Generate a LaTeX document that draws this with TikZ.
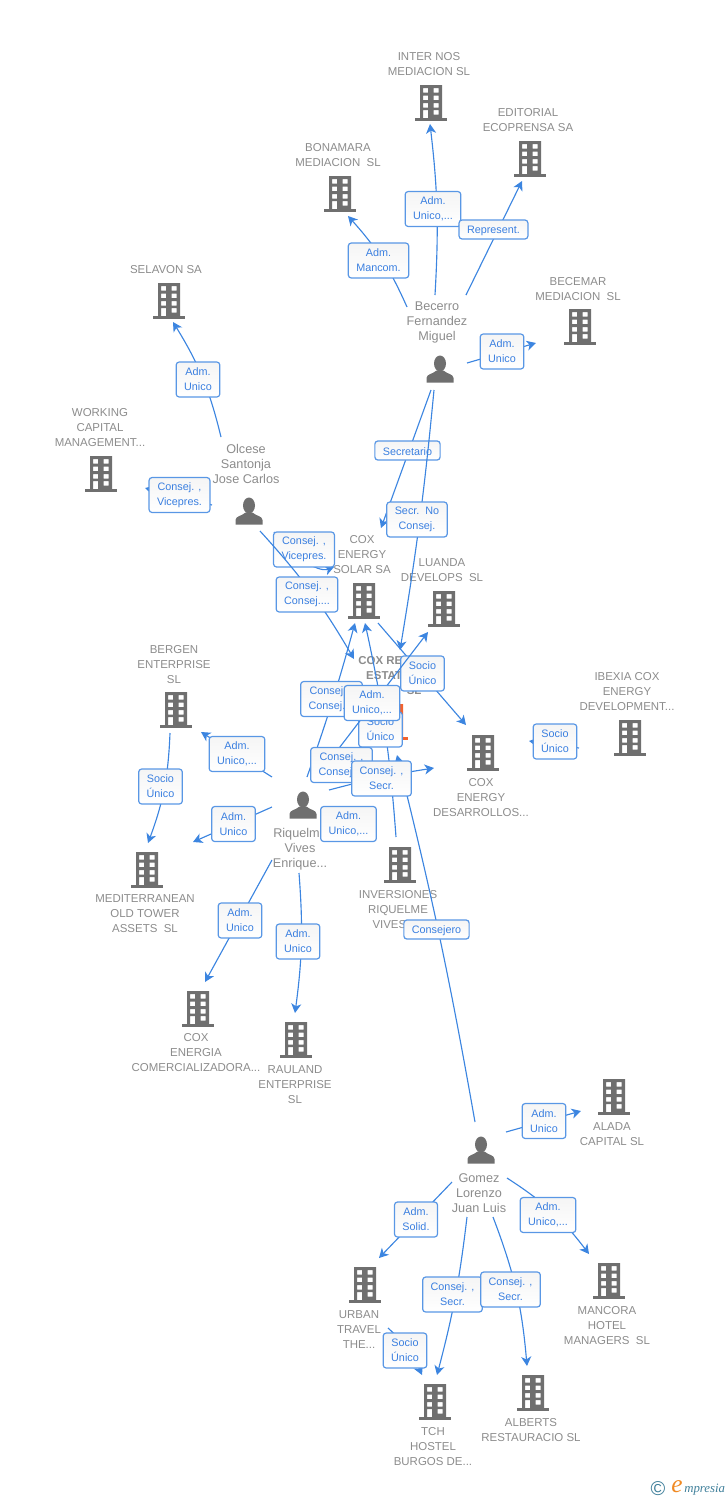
\documentclass[tikz,border=0pt]{standalone}
\usepackage{fontspec}
\setmainfont{Liberation Sans}
\newfontfamily\logofont{Liberation Serif}
\usetikzlibrary{arrows.meta}
\definecolor{linkblue}{HTML}{3C85E0}
\definecolor{lblblue}{HTML}{3A7FE0}
\definecolor{icongray}{HTML}{6F6F6F}
\definecolor{txtgray}{HTML}{8C8C8C}
\definecolor{mainorange}{HTML}{F2622E}
\definecolor{logoblue}{HTML}{3F7F9A}
\definecolor{logoorange}{HTML}{F08A24}
\tikzset{
  building/.pic={
    \fill[even odd rule] (-11,-17) rectangle (11,16)
      (-8,-14) rectangle (-3,-9.5) (2.5,-14) rectangle (7.5,-9.5)
      (-8,-6.5) rectangle (-3,-2) (2.5,-6.5) rectangle (7.5,-2)
      (-8,1) rectangle (-3,5.5) (2.5,1) rectangle (7.5,5.5)
      (-8,8) rectangle (-3,16) (2.5,8) rectangle (7.5,12.5);
    \fill (-16,16) rectangle (16,18.5);
  },
  person/.pic={
    \fill (0,-5.5) ellipse [x radius=6,y radius=8];
    \fill (-13.5,13.5) -- (-13.5,9) .. controls (-13.5,5) and (-7,5) .. (-3.5,1.5)
      -- (3.5,1.5) .. controls (7,5) and (13.5,5) .. (13.5,9) -- (13.5,13.5) -- cycle;
  }
}
\begin{document}
\begin{tikzpicture}[x=0.75pt,y=-0.75pt,
  icon/.style={inner sep=0,outer sep=0,minimum width=24pt,minimum height=27pt},
  btxt/.style={align=center,text=txtgray,inner sep=0,yshift=-0.75pt,font=\fontsize{8.6}{11.25}\selectfont},
  ptxt/.style={align=center,text=txtgray,inner sep=0,yshift=-0.75pt,font=\fontsize{9.5}{11.25}\selectfont},
  maintxt/.style={btxt,font=\fontsize{8.6}{11.25}\selectfont\bfseries},
  link/.style={draw=linkblue,line width=0.85pt,-{Stealth[length=7pt,width=7.5pt,inset=2pt]}},
  lbl/.style={draw=linkblue!85,line width=0.9pt,rounded corners=2.2pt,top color=black!4,bottom color=white,
    text=lblblue,align=center,inner xsep=6pt,inner ysep=0,minimum height=26.2pt,
    execute at begin node={\rule{0pt}{7.3pt}},
    font=\fontsize{8.1}{11.25}\selectfont},
  lblone/.style={lbl,minimum height=14.25pt}]
\useasboundingbox (0,0) rectangle (728,1500);
\node[icon] (internos) at (431,102) {};
\node[icon] (editorial) at (530,158) {};
\node[icon] (bonamara) at (340,193) {};
\node[icon] (becemar) at (580,326) {};
\node[icon] (selavon) at (169,300) {};
\node[icon] (working) at (101,473) {};
\node[icon] (coxsolar) at (364,600) {};
\node[icon] (luanda) at (444,608) {};
\node[icon] (coxreal) at (392,721) {};
\node[icon] (bergen) at (176,709) {};
\node[icon] (ibexia) at (630,737) {};
\node[icon] (coxdes) at (483,752) {};
\node[icon] (medit) at (147,869) {};
\node[icon] (inversiones) at (400,864) {};
\node[icon] (coxenergia) at (198,1008) {};
\node[icon] (rauland) at (296,1039) {};
\node[icon] (alada) at (614,1096) {};
\node[icon] (mancora) at (609,1280) {};
\node[icon] (urban) at (365,1284) {};
\node[icon] (tch) at (435,1401) {};
\node[icon] (alberts) at (533,1392) {};
\node[icon] (becerro) at (440,369) {};
\node[icon] (olcese) at (249,511) {};
\node[icon] (riquelme) at (303,805) {};
\node[icon] (gomez) at (481,1150) {};
\foreach \bname in {internos,editorial,bonamara,becemar,selavon,working,coxsolar,luanda,bergen,ibexia,coxdes,medit,inversiones,coxenergia,rauland,alada,mancora,urban,tch,alberts}
  \pic[icongray] at (\bname.center) {building};
\pic[mainorange] at (coxreal.center) {building};
\foreach \pname in {becerro,olcese,riquelme,gomez}
  \pic[icongray] at (\pname.center) {person};
\node[btxt] (internostxt) at (429,63.5) {INTER NOS\\MEDIACION SL};
\node[btxt] (editorialtxt) at (528,119.5) {EDITORIAL\\ECOPRENSA SA};
\node[btxt] (bonamaratxt) at (338,154.5) {BONAMARA\\MEDIACION\ \ SL};
\node[btxt] (becemartxt) at (578,288.5) {BECEMAR\\MEDIACION\ \ SL};
\node[btxt] (selavontxt) at (166,269) {SELAVON SA};
\node[btxt] (workingtxt) at (100,427) {WORKING\\CAPITAL\\MANAGEMENT...};
\node[btxt] (coxsolartxt) at (362,554) {COX\\ENERGY\\SOLAR SA};
\node[btxt] (luandatxt) at (442,569.5) {LUANDA\\DEVELOPS\ \ SL};
\node[maintxt] (coxrealtxt) at (388,675) {COX REAL\\ESTATE\\ASSETS\ \ SL};
\node[btxt] (bergentxt) at (174,664) {BERGEN\\ENTERPRISE\\SL};
\node[btxt] (ibexiatxt) at (627,691) {IBEXIA COX\\ENERGY\\DEVELOPMENT...};
\node[btxt] (coxdestxt) at (481,797) {COX\\ENERGY\\DESARROLLOS...};
\node[btxt] (medittxt) at (145,913) {MEDITERRANEAN\\OLD TOWER\\ASSETS\ \ SL};
\node[btxt] (inversionestxt) at (398,909) {INVERSIONES\\RIQUELME\\VIVES SL};
\node[btxt] (coxenergiatxt) at (196,1052) {COX\\ENERGIA\\COMERCIALIZADORA...};
\node[btxt] (raulandtxt) at (295,1084) {RAULAND\\ENTERPRISE\\SL};
\node[btxt] (aladatxt) at (612,1133.5) {ALADA\\CAPITAL SL};
\node[btxt] (mancoratxt) at (607,1325) {MANCORA\\HOTEL\\MANAGERS\ \ SL};
\node[btxt] (urbantxt) at (359,1329) {URBAN\\TRAVEL\\THE...};
\node[btxt] (tchtxt) at (433,1446) {TCH\\HOSTEL\\BURGOS DE...};
\node[btxt] (albertstxt) at (531,1429.5) {ALBERTS\\RESTAURACIO SL};
\node[ptxt] (becerrotxt) at (437,321) {Becerro\\Fernandez\\Miguel};
\node[ptxt] (olcesetxt) at (246,463) {Olcese\\Santonja\\Jose Carlos};
\node[ptxt] (riquelmetxt) at (300,848) {Riquelme\\Vives\\Enrique...};
\node[ptxt] (gomeztxt) at (479,1192) {Gomez\\Lorenzo\\Juan Luis};
\draw[link] ([shift={(-5,-74)}]becerro.center) to[bend right=5] ([shift={(-1,22)}]internos.center);
\node[lbl] (lblinternos) at (433,209) {Adm.\\Unico,...};
\draw[link] ([shift={(26,-74)}]becerro.center) -- ([shift={(-8,23)}]editorial.center);
\node[lblone] (lbleditorial) at (493.5,229.5) {Represent.};
\draw[link] ([shift={(-33,-62)}]becerro.center) to[bend right=9] ([shift={(8,23)}]bonamara.center);
\node[lbl] (lblbonamara) at (378.5,260.5) {Adm.\\Mancom.};
\draw[link] ([shift={(27,-6)}]becerro.center) -- ([shift={(-44,17)}]becemar.center);
\node[lbl] (lblbecemar) at (502,351.5) {Adm.\\Unico};
\draw[link] ([shift={(-9,21)}]becerro.center) -- ([shift={(17,-72)}]coxsolar.center);
\node[lblone] (lblsecretario) at (407.5,450.5) {Secretario};
\draw[link] ([shift={(-6,21)}]becerro.center) to[bend left=2] ([shift={(8,-71)}]coxreal.center);
\node[lbl] (lblsecr) at (417,519.5) {Secr.\ \ No\\Consej.};
\draw[link] ([shift={(-28,-74)}]olcese.center) to[bend right=9] ([shift={(4,22)}]selavon.center);
\node[lbl] (lblselavon) at (198,379.5) {Adm.\\Unico};
\draw[link] ([shift={(-37,-6)}]olcese.center) -- ([shift={(44,15)}]working.center);
\node[lbl] (lblworking) at (179.5,495) {Consej. ,\\Vicepres.};
\draw[link] ([shift={(25,21)}]olcese.center) .. controls (290,555) and (318,573) .. ([shift={(-30,-33)}]coxsolar.center);
\node[lbl] (lblvicepres) at (304,549.5) {Consej. ,\\Vicepres.};
\draw[link] ([shift={(11,20)}]olcese.center) to[bend left=6] ([shift={(-38,-62)}]coxreal.center);
\node[lbl] (lblolcese) at (307,594.5) {Consej. ,\\Consej....};
\draw[link] ([shift={(14,23)}]coxsolar.center) -- ([shift={(-17,-27)}]coxdes.center);
\node[lbl] (lblsociodes) at (422.5,673.5) {Socio\\Único};
\draw[link] ([shift={(4,-28)}]riquelme.center) to[bend right=2] ([shift={(-9,23)}]coxsolar.center);
\node[lbl] (lblconsejsolar) at (331.5,699) {Consej. ,\\Consej....};
\draw[link] ([shift={(-4,-27)}]inversiones.center) to[bend right=4] ([shift={(1,23)}]coxsolar.center);
\node[lbl] (lblsocioinv) at (380.5,729.5) {Socio\\Único};
\draw[link] ([shift={(17,-32)}]riquelme.center) -- ([shift={(-16,24)}]luanda.center);
\node[lbl] (lblluanda) at (372,703) {Adm.\\Unico,...};
\draw[link] ([shift={(-6,-28)}]gomez.center) to[bend right=2] ([shift={(5,34)}]coxreal.center);
\node[lblone] (lblconsejero) at (436.5,929.5) {Consejero};
\node[lbl] (lblconsejreal) at (341.5,765) {Consej. ,\\Consej....};
\draw[link] ([shift={(26,-15)}]riquelme.center) to[bend left=3] ([shift={(-49,16)}]coxdes.center);
\node[lbl] (lblconsejdes) at (381.5,778.5) {Consej. ,\\Secr.};
\node[lbl] (lblinversiones) at (348.5,824) {Adm.\\Unico,...};
\draw[link] ([shift={(-31,-28)}]riquelme.center) -- ([shift={(25,23)}]bergen.center);
\node[lbl] (lblbergen) at (237,754) {Adm.\\Unico,...};
\draw[link] ([shift={(-31,2)}]riquelme.center) -- ([shift={(46,-27)}]medit.center);
\node[lbl] (lblmedit) at (233.5,824) {Adm.\\Unico};
\draw[link] ([shift={(-6,24)}]bergen.center) to[bend left=9] ([shift={(1,-26)}]medit.center);
\node[lbl] (lblsociomed) at (160.5,786.5) {Socio\\Único};
\draw[link] ([shift={(-31,55)}]riquelme.center) -- ([shift={(7,-26)}]coxenergia.center);
\node[lbl] (lblenergia) at (240,920.5) {Adm.\\Unico};
\draw[link] ([shift={(-4,68)}]riquelme.center) to[bend left=6] ([shift={(-1,-26)}]rauland.center);
\node[lbl] (lblrauland) at (298,941.5) {Adm.\\Unico};
\draw[link] ([shift={(-51,11)}]ibexia.center) -- ([shift={(46,-11)}]coxdes.center);
\node[lbl] (lblibexia) at (555,741.5) {Socio\\Único};
\draw[link] ([shift={(25,-18)}]gomez.center) -- ([shift={(-33,15)}]alada.center);
\node[lbl] (lblalada) at (544,1121) {Adm.\\Unico};
\draw[link] ([shift={(26,28)}]gomez.center) to[bend left=10] ([shift={(-20,-26)}]mancora.center);
\node[lbl] (lblmancora) at (548,1215) {Adm.\\Unico,...};
\draw[link] ([shift={(-29,32)}]gomez.center) -- ([shift={(14,-26)}]urban.center);
\node[lbl] (lblurban) at (416,1219.5) {Adm.\\Solid.};
\draw[link] ([shift={(-14,67)}]gomez.center) to[bend left=4] ([shift={(2,-26)}]tch.center);
\node[lbl] (lbltch) at (452.5,1294.5) {Consej. ,\\Secr.};
\draw[link] ([shift={(12,67)}]gomez.center) to[bend left=8] ([shift={(-6,-26)}]alberts.center);
\node[lbl] (lblalberts) at (510.5,1289.5) {Consej. ,\\Secr.};
\draw[link] ([shift={(23,44)}]urban.center) to[bend left=12] ([shift={(-13,-26)}]tch.center);
\node[lbl] (lblsociotch) at (405,1350.5) {Socio\\Único};
\node[text=logoblue,inner sep=0,font=\fontsize{15}{15}\selectfont] (logoc) at (658,1489) {©};
\node[text=logoorange,inner sep=0,font=\logofont\itshape\fontsize{19}{19}\selectfont] (logoe) at (677,1487) {e};
\node[text=logoblue,inner sep=0,anchor=west,font=\logofont\itshape\fontsize{9.6}{10}\selectfont] (logotxt) at (684,1490) {mpresia};
\end{tikzpicture}
\end{document}
